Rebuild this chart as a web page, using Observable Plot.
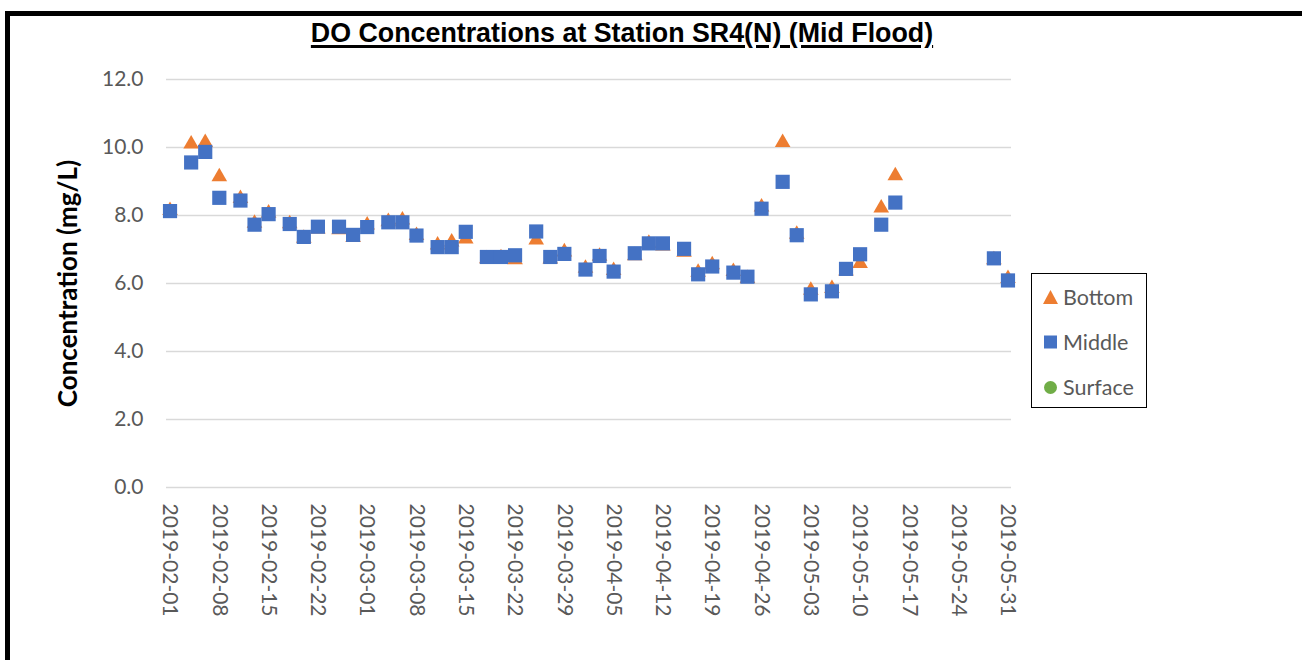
<!DOCTYPE html>
<html>
<head>
<meta charset="utf-8">
<script src="https://cdn.jsdelivr.net/npm/d3@7"></script>
<script src="https://cdn.jsdelivr.net/npm/@observablehq/plot@0.6"></script>
<style>
  html, body { margin: 0; padding: 0; width: 1302px; height: 660px; overflow: hidden; background: #fff; }
  #frame { position: absolute; left: 5px; top: 11px; width: 1400px; height: 800px;
           border-left: 5px solid #000; border-top: 5px solid #000; box-sizing: border-box; }
  #chart { position: absolute; left: 0; top: 0; }
  #title { position: absolute; left: 0; width: 1244px; top: 20px; text-align: center;
           font-family: "Liberation Sans", Arial, sans-serif; font-weight: bold; font-size: 26.8px;
           line-height: 26px; color: #000; text-decoration: underline; text-decoration-thickness: 2.5px;
           text-underline-offset: 3px; white-space: nowrap; }
  #legend { position: absolute; left: 1031px; top: 273px; width: 116px; height: 135px;
            border: 1.5px solid #000; box-sizing: border-box; background: #fff;
            font-family: Lato, sans-serif; font-size: 21.5px; color: #595959; }
  .item { position: absolute; left: 0; height: 24px; line-height: 24px; white-space: nowrap; }
  .item svg { position: absolute; left: 10px; top: 4px; }
  .item span { position: absolute; left: 31px; top: 0; }
  [aria-label="y-axis label"] text { font-weight: 700; fill: #000; font-size: 26px; }
</style>
</head>
<body>
<div id="frame"></div>
<div id="chart"></div>
<div id="title"></div>
<div id="legend"></div>
<script>
// ---- data ----
const chartTitle = "DO Concentrations at Station SR4(N) (Mid Flood)";
const yTitle = "Concentration (mg/L)";
const seriesNames = ["Bottom", "Middle", "Surface"];
const seriesColors = ["#ED7D31", "#4472C4", "#70AD47"];

const dates = [
  "2019-02-01","2019-02-04","2019-02-06","2019-02-08","2019-02-11","2019-02-13","2019-02-15",
  "2019-02-18","2019-02-20","2019-02-22","2019-02-25","2019-02-27","2019-03-01","2019-03-04",
  "2019-03-06","2019-03-08","2019-03-11","2019-03-13","2019-03-15","2019-03-18","2019-03-20",
  "2019-03-22","2019-03-25","2019-03-27","2019-03-29","2019-04-01","2019-04-03","2019-04-05",
  "2019-04-08","2019-04-10","2019-04-12","2019-04-15","2019-04-17","2019-04-19","2019-04-22",
  "2019-04-24","2019-04-26","2019-04-29","2019-05-01","2019-05-03","2019-05-06","2019-05-08",
  "2019-05-10","2019-05-13","2019-05-15","2019-05-29","2019-05-31"
];
const bottom = [
  8.15, 10.10, 10.15, 9.14, 8.50, 7.77, 8.07,
  7.76, 7.33, 7.60, 7.58, 7.35, 7.72, 7.82,
  7.87, 7.41, 7.13, 7.22, 7.31, 6.73, 6.76,
  6.70, 7.28, 6.72, 6.93, 6.45, 6.80, 6.38,
  6.82, 7.18, 7.10, 6.92, 6.33, 6.55, 6.35,
  6.15, 8.25, 10.15, 7.45, 5.80, 5.85, 6.37,
  6.59, 8.22, 9.17, 6.70, 6.15
];
const middle = [
  8.13, 9.56, 9.87, 8.52, 8.44, 7.73, 8.04,
  7.75, 7.37, 7.67, 7.67, 7.43, 7.66, 7.80,
  7.80, 7.41, 7.07, 7.07, 7.52, 6.78, 6.78,
  6.83, 7.53, 6.78, 6.87, 6.41, 6.81, 6.35,
  6.89, 7.18, 7.18, 7.02, 6.27, 6.50, 6.32,
  6.20, 8.20, 8.99, 7.42, 5.68, 5.77, 6.43,
  6.86, 7.73, 8.38, 6.74, 6.09
];
const surface = []; // no surface readings visible
const xTickLabels = [
  "2019-02-01","2019-02-08","2019-02-15","2019-02-22","2019-03-01","2019-03-08","2019-03-15",
  "2019-03-22","2019-03-29","2019-04-05","2019-04-12","2019-04-19","2019-04-26","2019-05-03",
  "2019-05-10","2019-05-17","2019-05-24","2019-05-31"
];
const yTicks = [0, 2, 4, 6, 8, 10, 12];

// ---- build ----
const bottomData = dates.map((d, i) => ({date: new Date(d), value: bottom[i]}));
const middleData = dates.map((d, i) => ({date: new Date(d), value: middle[i]}));
const surfaceData = surface.map((v, i) => ({date: new Date(dates[i]), value: v}));
const xTicks = xTickLabels.map(d => new Date(d));
const fmt = d3.utcFormat("%Y-%m-%d");

const plot = Plot.plot({
  width: 1302,
  height: 660,
  marginLeft: 166,
  marginRight: 291,
  marginTop: 79,
  marginBottom: 173,
  style: {fontFamily: "Lato, sans-serif", fontSize: "21px", color: "#595959", background: "transparent", overflow: "visible"},
  x: {type: "utc", domain: [new Date("2019-01-31T12:00Z"), new Date("2019-05-31T12:00Z")]},
  y: {domain: [0, 12]},
  marks: [
    Plot.gridY(yTicks, {stroke: "#d9d9d9", strokeOpacity: 1, strokeWidth: 1.5}),
    Plot.axisY(yTicks, {tickFormat: d => d.toFixed(1), tickSize: 0, tickPadding: 23,
      label: yTitle, labelAnchor: "center", labelOffset: 108, labelArrow: "none"}),
    Plot.axisX(xTicks, {tickFormat: fmt, tickSize: 0, tickPadding: 16, tickRotate: 90, label: null}),
    Plot.dot(bottomData, {x: "date", y: "value", symbol: "triangle", fill: seriesColors[0], r: 5.8}),
    Plot.dot(middleData, {x: "date", y: "value", symbol: "square", fill: seriesColors[1], r: 8}),
    Plot.dot(surfaceData, {x: "date", y: "value", symbol: "circle", fill: seriesColors[2], r: 6})
  ]
});
document.getElementById("chart").appendChild(plot);
document.getElementById("title").textContent = chartTitle;

// legend
const legend = document.getElementById("legend");
const shapes = [
  '<svg width="17" height="16"><polygon points="8.5,1 16,15 1,15" fill="' + seriesColors[0] + '"/></svg>',
  '<svg width="17" height="16"><rect x="2" y="1.5" width="13" height="13" fill="' + seriesColors[1] + '"/></svg>',
  '<svg width="17" height="16"><circle cx="8.5" cy="8.5" r="6.5" fill="' + seriesColors[2] + '"/></svg>'
];
const centers = [296, 341, 386];
seriesNames.forEach((name, i) => {
  const div = document.createElement("div");
  div.className = "item";
  div.style.top = (centers[i] - 273 - 12) + "px";
  div.innerHTML = shapes[i] + "<span>" + name + "</span>";
  legend.appendChild(div);
});
</script>
</body>
</html>
